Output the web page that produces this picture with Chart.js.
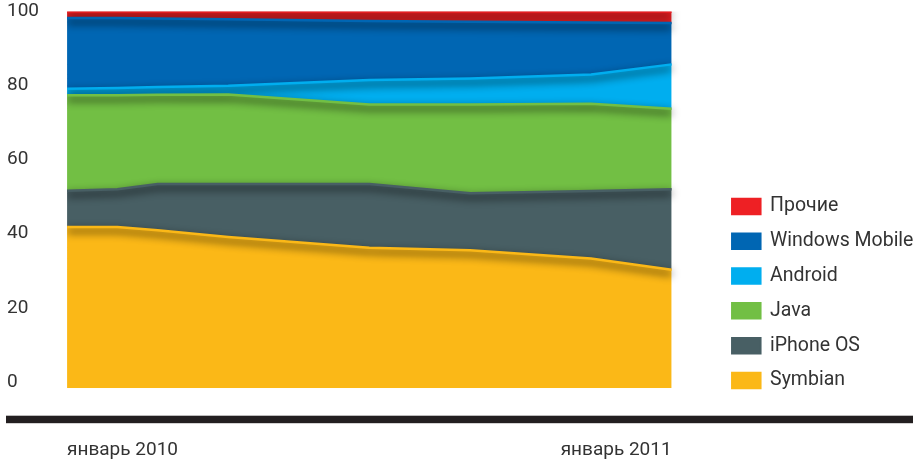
<!DOCTYPE html>
<html>
<head>
<meta charset="utf-8">
<script src="https://cdn.jsdelivr.net/npm/chart.js@4"></script>
<style>
  html, body { margin: 0; padding: 0; background: #fff; }
  #wrap { width: 917px; height: 462px; }
</style>
</head>
<body>
<div id="wrap"><canvas id="osChart"></canvas></div>
<script>
// months since January 2010
const months = [0, 1, 1.8, 3.2, 6, 8, 10.4, 12];

// market share, %
const symbian = [41.8, 41.8, 40.9, 39.1, 36.2, 35.5, 33.3, 30.3];
const iphone  = [9.8, 10.2, 12.5, 14.3, 17.2, 15.4, 18.2, 21.7];
const java    = [25.8, 25.4, 24.1, 24.2, 21.5, 24.0, 23.6, 21.7];
const android = [1.7, 1.9, 2.1, 2.3, 6.6, 7.0, 7.9, 12.0];
const winmob  = [19.1, 18.9, 18.5, 18.0, 15.9, 15.3, 14.0, 11.2];
const others  = [1.8, 1.8, 1.9, 2.1, 2.6, 2.8, 3.0, 3.1];

const yTicks = [0, 20, 40, 60, 80, 100];
const xTicks = [0, 12];
const xTickLabels = ['январь 2010', 'январь 2011'];

const FONT = 'Roboto, "Noto Sans", sans-serif';

function points(values) {
  return values.map((v, i) => ({ x: months[i], y: v }));
}

function layer(label, values, color, fill) {
  return {
    label: label,
    data: points(values),
    backgroundColor: color,
    borderColor: color,
    borderWidth: 2.5,
    pointRadius: 0,
    tension: 0,
    fill: fill
  };
}

// dark shading under the upper edge of every layer
const edgeShade = {
  id: 'edgeShade',
  beforeDatasetDraw(chart) {
    const ctx = chart.ctx;
    ctx.shadowColor = 'rgba(0,0,0,1)';
    ctx.shadowBlur = 9;
    ctx.shadowOffsetY = 4;
  },
  afterDatasetDraw(chart) {
    const ctx = chart.ctx;
    ctx.shadowColor = 'rgba(0,0,0,0)';
    ctx.shadowBlur = 0;
    ctx.shadowOffsetY = 0;
  }
};

// thick black rule under the plot
const baseRule = {
  id: 'baseRule',
  afterDraw(chart) {
    const ctx = chart.ctx;
    ctx.save();
    ctx.fillStyle = '#231f20';
    ctx.fillRect(6, chart.chartArea.bottom + 27.5, chart.width - 10, 7.5);
    ctx.restore();
  }
};

new Chart(document.getElementById('osChart'), {
  type: 'line',
  data: {
    datasets: [
      layer('Symbian', symbian, '#fbb817', 'start'),
      layer('iPhone OS', iphone, '#485f64', '-1'),
      layer('Java', java, '#72bf44', '-1'),
      layer('Android', android, '#00aeef', '-1'),
      layer('Windows Mobile', winmob, '#0066b3', '-1'),
      layer('Прочие', others, '#ee2024', '-1')
    ]
  },
  options: {
    responsive: true,
    maintainAspectRatio: false,
    animation: false,
    layout: { padding: { left: 7, right: 0, top: 2, bottom: 0 } },
    scales: {
      x: {
        type: 'linear',
        min: 0,
        max: 12.9,
        grid: { display: false, drawTicks: true, tickLength: 51 },
        border: { display: false },
        afterBuildTicks: s => { s.ticks = xTicks.map(v => ({ value: v })); },
        ticks: {
          align: 'inner',
          padding: 0,
          maxRotation: 0,
          color: '#333',
          font: { family: FONT, size: 19 },
          callback: v => xTickLabels[xTicks.indexOf(v)]
        }
      },
      y: {
        stacked: true,
        min: -1.7,
        max: 100,
        grid: { display: false, drawTicks: true, tickLength: 28 },
        border: { display: false },
        afterBuildTicks: s => { s.ticks = yTicks.map(v => ({ value: v })); },
        ticks: {
          crossAlign: 'far',
          padding: 0,
          color: '#333',
          font: { family: FONT, size: 19 }
        }
      }
    },
    plugins: {
      tooltip: { enabled: false },
      legend: {
        position: 'right',
        align: 'start',
        reverse: true,
        maxWidth: 200,
        title: { display: true, text: '', padding: { top: 165, bottom: 0 }, font: { size: 12 } },
        labels: {
          boxWidth: 28,
          boxHeight: 15,
          padding: 15.3,
          color: '#333',
          font: { family: FONT, size: 19.5 }
        }
      }
    }
  },
  plugins: [edgeShade, baseRule]
});
</script>
</body>
</html>
